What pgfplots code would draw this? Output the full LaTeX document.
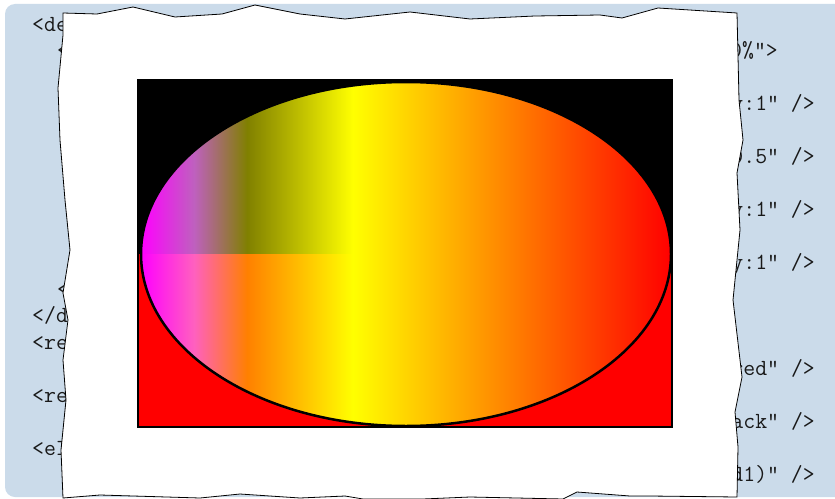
\documentclass[border=0pt]{standalone}
\usepackage{pgfplots}
\pgfplotsset{compat=1.18}
\usepackage{fontspec}

\definecolor{codebg}{RGB}{203,219,234}
\definecolor{gm}{RGB}{255,0,255}
% gradient composited over the black half
\definecolor{t10}{RGB}{191,96,191}
\definecolor{t20}{RGB}{128,128,0}
\definecolor{t30}{RGB}{191,191,0}
% gradient composited over the red half
\definecolor{b10}{RGB}{255,96,191}
\definecolor{b20}{RGB}{255,128,0}
\definecolor{b30}{RGB}{255,191,0}

\pgfdeclarehorizontalshading{gradtop}{100bp}{color(0bp)=(gm); color(25bp)=(gm); color(30bp)=(t10); color(35bp)=(t20); color(40bp)=(t30); color(45bp)=(yellow); color(75bp)=(red); color(100bp)=(red)}
\pgfdeclarehorizontalshading{gradbot}{100bp}{color(0bp)=(gm); color(25bp)=(gm); color(30bp)=(b10); color(35bp)=(b20); color(40bp)=(b30); color(45bp)=(yellow); color(75bp)=(red); color(100bp)=(red)}

\tikzset{codetext/.style={font=\ttfamily\fontsize{23.2}{28}\selectfont, text=black!90, inner sep=0pt}}

\begin{document}
\begin{tikzpicture}
\begin{axis}[
  width=835bp, height=499bp, scale only axis,
  xmin=0, xmax=835, ymin=0, ymax=499,
  y dir=reverse,
  hide axis,
]
% page and code block
\fill[white] (axis cs:0,0) rectangle (axis cs:835,499);
\fill[codebg, rounded corners=10bp] (axis cs:5,4) rectangle (axis cs:870,497);

% code lines (left and right ends peek out from under the paper)
\node[codetext, anchor=base west] at (axis cs:32,31.5) {<defs>};
\node[codetext, anchor=base west] at (axis cs:57,57.5) {<linearGradient id="grad1"};
\node[codetext, anchor=base east] at (axis cs:778,57.5) {x2="100\%" y2="0\%">};
\node[codetext, anchor=base east] at (axis cs:815,110.5) {stop-opacity:1" />};
\node[codetext, anchor=base east] at (axis cs:815,163.5) {stop-opacity:0.5" />};
\node[codetext, anchor=base east] at (axis cs:815,216.5) {stop-opacity:1" />};
\node[codetext, anchor=base east] at (axis cs:815,269.5) {stop-opacity:1" />};
\node[codetext, anchor=base west] at (axis cs:57,296) {</linearGradient>};
\node[codetext, anchor=base west] at (axis cs:32,322.5) {</defs>};
\node[codetext, anchor=base west] at (axis cs:32,349) {<rect x="10"};
\node[codetext, anchor=base east] at (axis cs:815,375.5) {fill="red" />};
\node[codetext, anchor=base west] at (axis cs:32,402) {<rect x="10"};
\node[codetext, anchor=base east] at (axis cs:815,428.5) {fill="black" />};
\node[codetext, anchor=base west] at (axis cs:32,455) {<ellipse cx="200"};
\node[codetext, anchor=base east] at (axis cs:815,481.5) {fill="url(\#grad1)" />};

% torn paper
\addplot[fill=white, draw=black, line width=0.8bp] coordinates {
  (63,13) (97,14) (133,7) (175,17) (222,14) (255,5) (300,14) (345,19)
  (410,12) (470,19) (535,16) (600,15) (622,18) (658,8) (737,13)
  (739,100) (743,140) (737,173) (740,230) (733,300) (742,377) (735,412)
  (738,447) (737,497) (650,496) (630,496) (577,492) (563,499) (470,497)
  (423,499) (363,499) (345,496) (300,498) (240,494) (200,498) (100,495)
  (63,498) (61,450) (66,400) (63,360) (68,320) (63,293) (70,250)
  (65,200) (60,140) (58,88) (63,35)
} -- cycle;

% red and black halves of the rectangle
\addplot[draw=none, fill=red] coordinates {(138,254) (672,254) (672,427) (138,427)} -- cycle;
\addplot[draw=none, fill=black] coordinates {(138,80) (672,80) (672,254) (138,254)} -- cycle;
\addplot[draw=black, line width=1.5bp] coordinates {(138,80) (672,80) (672,427) (138,427)} -- cycle;

% ellipse with the gradient
\begin{scope}
  \clip (axis cs:406,254) ellipse [x radius=265, y radius=172];
  \shade[shading=gradtop] (axis cs:141,80) rectangle (axis cs:671,254);
  \shade[shading=gradbot] (axis cs:141,254) rectangle (axis cs:671,428);
\end{scope}
\draw[black, line width=2.5bp] (axis cs:406,254) ellipse [x radius=265, y radius=172];
\end{axis}
\end{tikzpicture}
\end{document}
